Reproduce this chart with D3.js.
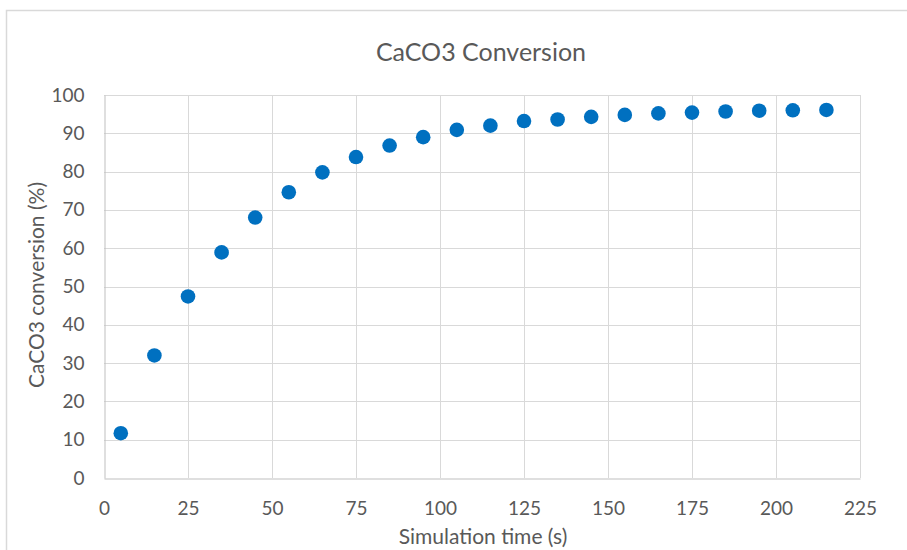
<!DOCTYPE html>
<html>
<head>
<meta charset="utf-8">
<script src="https://cdn.jsdelivr.net/npm/d3@7"></script>
<style>
  html, body { margin: 0; padding: 0; background: #fff; }
  svg { display: block; }
  text { font-family: Lato, "Open Sans", sans-serif; fill: #595959; }
</style>
</head>
<body>
<svg id="chart" width="907" height="550"></svg>
<script>
const times = [5, 15, 25, 35, 45, 55, 65, 75, 85, 95, 105, 115, 125, 135, 145, 155, 165, 175, 185, 195, 205, 215];
const conversion = [11.7, 32.0, 47.4, 58.9, 68.0, 74.6, 79.8, 83.8, 86.8, 89.0, 90.9, 92.0, 93.2, 93.6, 94.3, 94.8, 95.2, 95.4, 95.7, 95.9, 96.0, 96.1];
const xTicks = [0, 25, 50, 75, 100, 125, 150, 175, 200, 225];
const yTicks = [0, 10, 20, 30, 40, 50, 60, 70, 80, 90, 100];
const titleText = "CaCO3 Conversion";
const xTitle = "Simulation time (s)";
const yTitle = "CaCO3 conversion (%)";

const svg = d3.select("#chart");
const m = { left: 104, right: 860, top: 95, bottom: 478 };

// chart area frame
svg.append("rect")
  .attr("x", 6.5).attr("y", 10.5)
  .attr("width", 920).attr("height", 560)
  .attr("fill", "#fff")
  .attr("stroke", "#d9d9d9").attr("stroke-width", 1.5);

const x = d3.scaleLinear().domain([0, 225]).range([m.left, m.right]);
const y = d3.scaleLinear().domain([0, 100]).range([m.bottom, m.top]);

// gridlines
const grid = svg.append("g");
grid.selectAll("line.h").data(yTicks.filter(d => d > 0)).join("line")
  .attr("x1", m.left).attr("x2", m.right)
  .attr("y1", d => Math.round(y(d)) + 0.5).attr("y2", d => Math.round(y(d)) + 0.5)
  .attr("stroke", "#d9d9d9").attr("stroke-width", 1);
grid.selectAll("line.v").data(xTicks.filter(d => d > 0)).join("line")
  .attr("y1", m.top).attr("y2", m.bottom)
  .attr("x1", d => Math.round(x(d)) + 0.5).attr("x2", d => Math.round(x(d)) + 0.5)
  .attr("stroke", "#d9d9d9").attr("stroke-width", 1);

// axes
const xAxis = d3.axisBottom(x).tickValues(xTicks).tickSize(0).tickPadding(23);
const gx = svg.append("g").attr("transform", `translate(0,${Math.round(m.bottom) + 0.5})`).call(xAxis);
gx.select(".domain").attr("stroke", "#bfbfbf");
gx.selectAll("text").style("font-size", "19px").attr("fill", "#595959");

const yAxis = d3.axisLeft(y).tickValues(yTicks).tickSize(0).tickPadding(20);
const gy = svg.append("g").attr("transform", `translate(${m.left + 0.5},0)`).call(yAxis);
gy.select(".domain").attr("stroke", "#bfbfbf");
gy.selectAll("text").style("font-size", "19px").attr("fill", "#595959");

// points
svg.append("g").selectAll("circle")
  .data(times.map((t, i) => [t, conversion[i]]))
  .join("circle")
  .attr("cx", d => x(d[0]))
  .attr("cy", d => y(d[1]))
  .attr("r", 7.3)
  .attr("fill", "#0070c0");

// titles
svg.append("text").attr("x", 481).attr("y", 61)
  .attr("text-anchor", "middle").style("font-size", "25px").text(titleText);
svg.append("text").attr("x", 483).attr("y", 544)
  .attr("text-anchor", "middle").style("font-size", "21px").text(xTitle);
svg.append("text")
  .attr("transform", `translate(44,285) rotate(-90)`)
  .attr("text-anchor", "middle").style("font-size", "21px").text(yTitle);
</script>
</body>
</html>
